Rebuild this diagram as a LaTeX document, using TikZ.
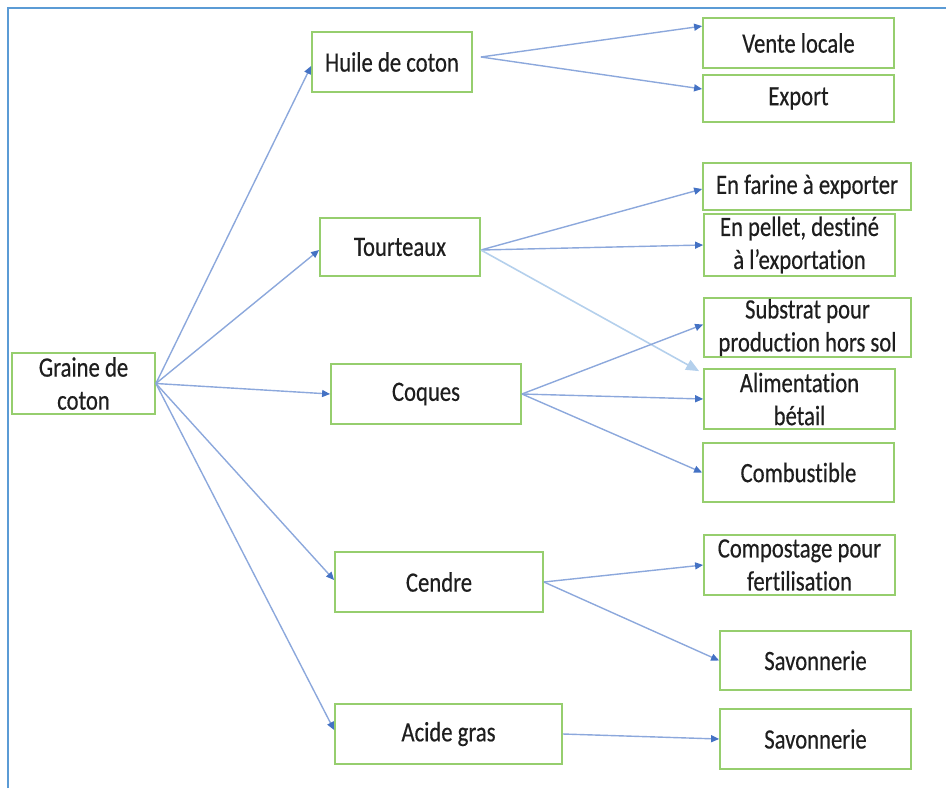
\documentclass[tikz,border=0pt]{standalone}
\usepackage{fontspec}
\setmainfont[FakeStretch=0.81,FakeBold=0.4,Ligatures=NoCommon]{Carlito}
\usetikzlibrary{arrows.meta,calc}
\definecolor{boxgreen}{RGB}{150,206,110}
\definecolor{linkblue}{RGB}{140,168,220}
\definecolor{tipblue}{RGB}{68,114,196}
\definecolor{paleblue}{RGB}{180,208,236}
\definecolor{framblue}{RGB}{91,155,213}
\definecolor{txt}{RGB}{30,30,30}
\tikzset{
  bx/.style={draw=boxgreen, line width=1.8pt, inner sep=0pt, align=center,
    text=txt, font=\fontsize{28}{33}\selectfont},
  lnk/.style={draw=linkblue, line width=1.4pt,
    -{Triangle[length=8pt,width=7pt,fill=tipblue,color=tipblue]}},
  palelnk/.style={draw=paleblue, line width=1.6pt,
    -{Triangle[length=13pt,width=11pt,fill=paleblue,color=paleblue]}},
}
\newcommand{\bxat}[6]{% name, x1, y1, x2, y2, text
  \node[bx, minimum width={#4-#2}, minimum height={#5-#3}] (#1) at ({(#2+#4)/2},{(#3+#5)/2}) {#6};}
\begin{document}
\begin{tikzpicture}[x=1pt,y=-1pt]
\useasboundingbox (0,0) rectangle (946,788);
\draw[framblue, line width=2pt] (8,788) -- (8,8) -- (946,8);
\bxat{graine}{12}{353}{155}{414}{Graine de\\coton}
\bxat{huile}{312}{32}{472}{92}{Huile de coton}
\bxat{tourteaux}{320}{218}{480}{276}{Tourteaux}
\bxat{coques}{331}{364}{521}{424}{Coques}
\bxat{cendre}{335}{552}{543}{612}{Cendre}
\bxat{acide}{335}{704}{562}{764}{Acide gras}
\bxat{vente}{703}{18}{894}{68}{Vente locale}
\bxat{export}{703}{75}{894}{122}{Export}
\bxat{farine}{703}{163}{911}{210}{En farine à exporter}
\bxat{pellet}{704}{214}{895}{276}{En pellet, destiné\\à l’exportation}
\bxat{substrat}{704}{298}{911}{357}{Substrat pour\\production hors sol}
\bxat{alim}{704}{369}{895}{429}{Alimentation\\bétail}
\bxat{combust}{703}{443}{894}{502}{Combustible}
\bxat{compost}{704}{535}{895}{595}{Compostage pour\\fertilisation}
\bxat{savonA}{720}{631}{911}{690}{Savonnerie}
\bxat{savonB}{720}{709}{911}{769}{Savonnerie}
% from graine
\draw[lnk] (graine.east) -- ([yshift=-4pt]huile.west);
\draw[lnk] (graine.east) -- ([yshift=-3pt]tourteaux.west);
\draw[lnk] (graine.east) -- (coques.west);
\draw[lnk] (graine.east) -- ([yshift=2pt]cendre.west);
\draw[lnk] (graine.east) -- ([yshift=4pt]acide.west);
% from huile
\draw[lnk] ([xshift=8pt,yshift=5pt]huile.east) -- ([yshift=-9pt]vente.north west);
\draw[lnk] ([xshift=8pt,yshift=5pt]huile.east) -- ([yshift=9.5pt]export.west);
% from tourteaux
\draw[lnk] ([yshift=-3pt]tourteaux.east) -- ([yshift=-2.5pt]farine.west);
\draw[lnk] ([yshift=-3pt]tourteaux.east) -- (pellet.west);
\draw[palelnk] ([yshift=-3pt]tourteaux.east) -- ([xshift=-4pt,yshift=-3pt]alim.north west);
% from coques
\draw[lnk] (coques.east) -- ([yshift=3pt]substrat.west);
\draw[lnk] (coques.east) -- (alim.west);
\draw[lnk] (coques.east) -- (combust.west);
% from cendre
\draw[lnk] (cendre.east) -- (compost.west);
\draw[lnk] (cendre.east) -- (savonA.west);
% from acide
\draw[lnk] (acide.east) -- (savonB.west);
\end{tikzpicture}
\end{document}
